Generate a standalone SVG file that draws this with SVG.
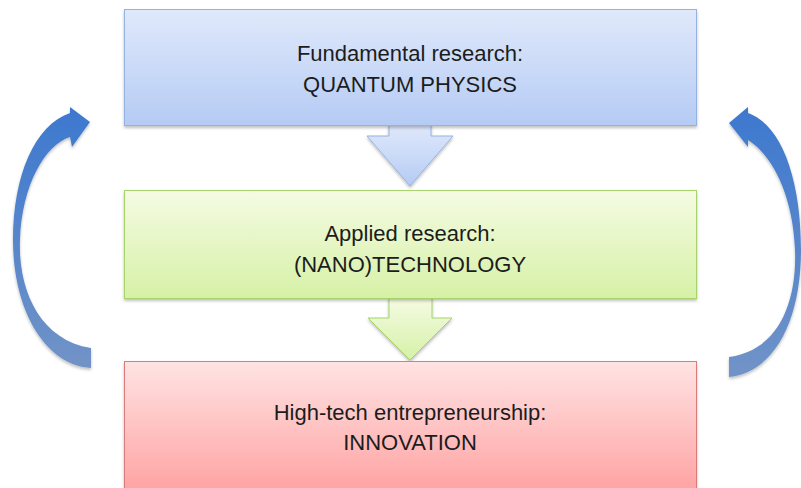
<svg xmlns="http://www.w3.org/2000/svg" width="801" height="488" viewBox="0 0 801 488">
<style>
.t{font-family:"Liberation Sans",Arial,sans-serif;font-size:22px;fill:#1c1c1c;text-anchor:middle}
</style>
<defs>
<linearGradient id="gb" x1="0" y1="0" x2="0" y2="1"><stop offset="0" stop-color="#e0e9fb"/><stop offset="1" stop-color="#b5cbf4"/></linearGradient>
<linearGradient id="gg" x1="0" y1="0" x2="0" y2="1"><stop offset="0" stop-color="#f5fbe3"/><stop offset="1" stop-color="#d6f1a6"/></linearGradient>
<linearGradient id="gr" x1="0" y1="0" x2="0" y2="1"><stop offset="0" stop-color="#ffe3e3"/><stop offset="1" stop-color="#ffa3a3"/></linearGradient>
<linearGradient id="ga" x1="0" y1="0" x2="0" y2="1"><stop offset="0" stop-color="#3d78cf"/><stop offset="1" stop-color="#7193c7"/></linearGradient>
<filter id="sh" x="-10%" y="-10%" width="120%" height="130%"><feDropShadow dx="0" dy="2" stdDeviation="1.5" flood-color="#000" flood-opacity="0.25"/></filter>
</defs>
<g id="connectors">
<path d="M389,124 V136 H367 L410,186 L453,136 H431 V124 Z" fill="url(#gb)" stroke="#95b3e0" stroke-width="1" filter="url(#sh)"/>
<path d="M389,298 V318 H368 L410,360 L452,318 H432 V298 Z" fill="url(#gg)" stroke="#a6d46a" stroke-width="1" filter="url(#sh)"/>
<path d="M91,348 C40,340 18,290 20,240 C22,185 45,145 70,137 L72,147 L90,122 L70,107 L70,113 C35,125 13,175 13,240 C13,310 45,365 91,368 Z" fill="url(#ga)" filter="url(#sh)"/>
<path d="M729,357 C780,350 797,300 795,250 C793,195 772,155 748,140 L748,147 L729,123 L748,107 L748,113 C782,125 801,180 801,250 C801,320 775,372 729,377 Z" fill="url(#ga)" filter="url(#sh)"/>
</g>
<g id="node-fundamental">
<rect x="124.5" y="9.5" width="572" height="116" fill="url(#gb)" stroke="#95b3e0" filter="url(#sh)"/>
<text class="t" x="410" y="61">Fundamental research:</text>
<text class="t" x="410" y="92">QUANTUM PHYSICS</text>
</g>
<g id="node-applied">
<rect x="124.5" y="190.5" width="572" height="108" fill="url(#gg)" stroke="#a6d46a" filter="url(#sh)"/>
<text class="t" x="410" y="241">Applied research:</text>
<text class="t" x="410" y="272">(NANO)TECHNOLOGY</text>
</g>
<g id="node-innovation">
<rect x="124.5" y="361.5" width="572" height="130" fill="url(#gr)" stroke="#d97b7b" filter="url(#sh)"/>
<text class="t" x="410" y="420">High-tech entrepreneurship:</text>
<text class="t" x="410" y="450">INNOVATION</text>
</g>
</svg>
